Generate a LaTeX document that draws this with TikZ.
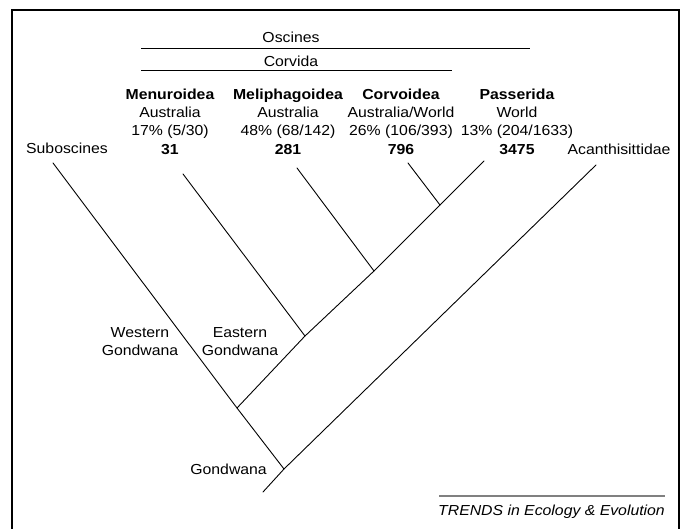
\documentclass[tikz,border=0pt]{standalone}
\usepackage{fontspec}
\setmainfont{Liberation Sans}[FakeStretch = 1.09]
\begin{document}
\begin{tikzpicture}[x = 1pt, y = -1pt,
    txt/.style = {inner sep = 0pt, font = \fontsize{14.5}{18.3}\selectfont},
    taxon/.style = {txt, align = center, anchor = north},
    region/.style = {txt, align = center, anchor = north, font = \fontsize{14.5}{18}\selectfont},
    branch/.style = {black, line width = 0.9pt, line cap = round}]

    \useasboundingbox (0, 0) rectangle (683, 529);

    % frame
    \draw [black, line width = 1.2pt] (12, 529) -- (12, 10) -- (679, 10) -- (679, 529);

    % groups
    \node [txt, anchor = base] (oscines) at (291, 43) {Oscines};
    \draw [black, line width = 1pt] (141, 49) -- (530, 49);
    \node [txt, anchor = base] (corvida) at (291, 67) {Corvida};
    \draw [black, line width = 1pt] (141, 71) -- (452, 71);

    % clades
    \node [taxon] (menuroidea)    at (170, 88.5) {\textbf{Menuroidea}\\Australia\\17\% (5/30)\\\textbf{31}};
    \node [taxon] (meliphagoidea) at (288, 88.5) {\textbf{Meliphagoidea}\\Australia\\48\% (68/142)\\\textbf{281}};
    \node [taxon] (corvoidea)     at (401, 88.5) {\textbf{Corvoidea}\\Australia/World\\26\% (106/393)\\\textbf{796}};
    \node [taxon] (passerida)     at (517, 88.5) {\textbf{Passerida}\\World\\13\% (204/1633)\\\textbf{3475}};
    \node [txt, anchor = base] (suboscines)      at (67, 154)  {Suboscines};
    \node [txt, anchor = base] (acanthisittidae) at (619, 155) {Acanthisittidae};

    % tips
    \coordinate (sub tip)  at (53, 163);
    \coordinate (menu tip) at (183, 174);
    \coordinate (meli tip) at (297, 168);
    \coordinate (corv tip) at (408, 163);
    \coordinate (pass tip) at (484, 161);
    \coordinate (acan tip) at (596, 165);

    % internal nodes
    \coordinate (corv node) at (440, 205);
    \coordinate (meli node) at (374, 271);
    \coordinate (menu node) at (305, 336);
    \coordinate (east node) at (237, 408);
    \coordinate (gond node) at (284, 469);
    \coordinate (root)      at (263, 492);

    % branches
    \draw [branch] (sub tip) -- (east node) -- (gond node);
    \draw [branch] (acan tip) -- (gond node) -- (root);
    \draw [branch] (pass tip) -- (corv node) -- (meli node) -- (menu node) -- (east node);
    \draw [branch] (corv tip) -- (corv node);
    \draw [branch] (meli tip) -- (meli node);
    \draw [branch] (menu tip) -- (menu node);

    % regions
    \node [region] (western) at (140, 327.5) {Western\\Gondwana};
    \node [region] (eastern) at (240, 327.5) {Eastern\\Gondwana};
    \node [txt, anchor = base east] (gondwana) at (267, 474) {Gondwana};

    % journal
    \draw [gray, line width = 1.6pt] (439, 496) -- (665, 496);
    \node [txt, anchor = base, font = \fontsize{14.5}{16}\selectfont\itshape] (trends) at (551.5, 515) {TRENDS in Ecology \& Evolution};
\end{tikzpicture}
\end{document}
